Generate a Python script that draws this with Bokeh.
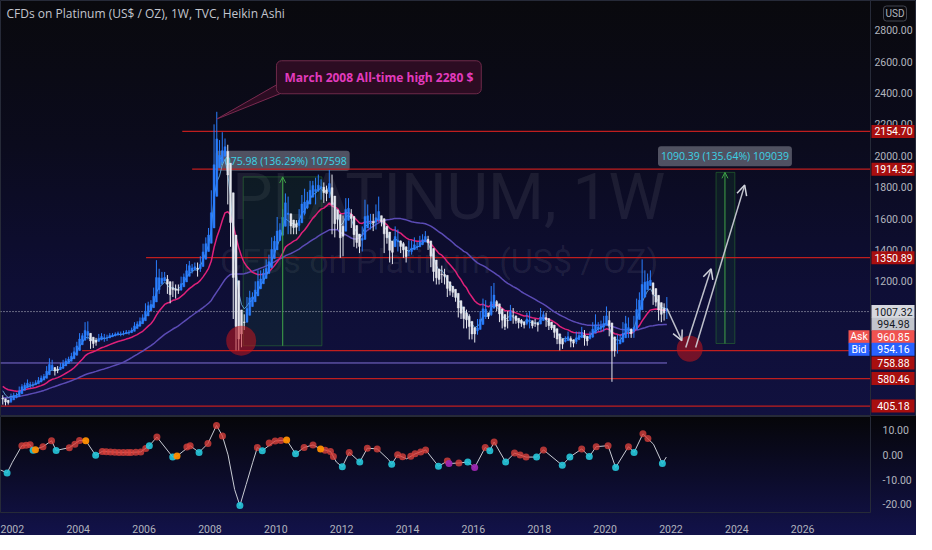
import numpy as np
import pandas as pd
from bokeh.plotting import figure
from bokeh.models import (Range1d, Label, Arrow, OpenHead, FixedTicker, Span,
                          NumeralTickFormatter, CustomJSTickFormatter)
from bokeh.layouts import column
from bokeh.embed import file_html
from bokeh.resources import INLINE
from bokeh.core.properties import value

# ---------------- data (monthly) ----------------
warmup_close = [390, 395, 410, 400, 390, 370, 385, 370, 360, 345, 350, 370,
                360, 365, 370, 375, 355, 360, 350, 365, 420, 430, 440, 445,
                430, 500, 470, 500, 530, 560, 560, 580, 580, 590, 600, 620,
                600, 590, 570, 600, 620, 560, 520, 460]

# Sep 2001 .. Nov 2021
pt_close = [450, 420, 430, 480,
            470, 480, 520, 535, 540, 560, 535, 550, 555, 580, 585, 600,
            650, 680, 650, 620, 640, 660, 690, 700, 710, 730, 770, 810,
            850, 860, 900, 850, 810, 800, 820, 850, 850, 830, 850, 860,
            860, 870, 870, 860, 870, 880, 880, 900, 930, 930, 960, 970,
            1040, 1050, 1060, 1150, 1260, 1230, 1210, 1230, 1140, 1110, 1180, 1120,
            1150, 1220, 1240, 1290, 1300, 1280, 1300, 1260, 1350, 1420, 1470, 1530,
            1720, 2150, 2030, 1950, 2080, 2050, 1700, 1460, 1000, 830, 840, 900,
            970, 1080, 1120, 1100, 1190, 1180, 1260, 1250, 1300, 1340, 1450, 1470,
            1520, 1560, 1650, 1740, 1560, 1540, 1560, 1530, 1650, 1730, 1680, 1750,
            1800, 1820, 1770, 1830, 1810, 1720, 1800, 1850, 1530, 1600, 1600, 1360,
            1610, 1690, 1640, 1560, 1430, 1450, 1410, 1540, 1660, 1570, 1610, 1530,
            1670, 1590, 1570, 1480, 1460, 1340, 1440, 1520, 1410, 1440, 1360, 1360,
            1380, 1440, 1410, 1430, 1450, 1480, 1480, 1420, 1300, 1250, 1210, 1200,
            1280, 1190, 1130, 1140, 1110, 1080, 980, 1010, 910, 990, 840, 890,
            860, 930, 970, 1080, 970, 980, 1150, 1060, 1020, 980, 920, 900,
            990, 1020, 940, 950, 940, 920, 930, 990, 910, 920, 940, 930,
            1000, 990, 930, 900, 900, 850, 830, 780, 820, 830, 850, 795,
            820, 860, 850, 890, 800, 840, 870, 930, 890, 930, 900, 970,
            960, 860, 730, 780, 830, 810, 910, 930, 880, 850, 960, 1070,
            1090, 1200, 1180, 1210, 1180, 1060, 1050, 1010, 960, 1030, 1007]

pt_high = [475, 445, 445, 485,
           490, 490, 530, 545, 555, 575, 560, 560, 570, 590, 600, 610,
           660, 710, 700, 650, 660, 680, 700, 710, 720, 745, 780, 815,
           870, 870, 940, 945, 850, 830, 840, 865, 870, 865, 860, 870,
           870, 875, 880, 880, 885, 890, 890, 905, 940, 945, 970, 990,
           1060, 1070, 1080, 1160, 1335, 1280, 1260, 1260, 1240, 1150, 1200, 1180,
           1180, 1230, 1250, 1310, 1330, 1310, 1320, 1320, 1360, 1440, 1480, 1540,
           1780, 2200, 2280, 2100, 2150, 2110, 2070, 1720, 1480, 1060, 900, 940,
           990, 1100, 1140, 1130, 1200, 1270, 1270, 1280, 1340, 1370, 1480, 1490,
           1610, 1570, 1660, 1760, 1740, 1610, 1570, 1590, 1660, 1750, 1790, 1770,
           1840, 1840, 1860, 1880, 1850, 1830, 1810, 1910, 1880, 1660, 1650, 1600,
           1620, 1730, 1730, 1660, 1580, 1500, 1450, 1550, 1720, 1690, 1630, 1630,
           1690, 1740, 1610, 1580, 1530, 1470, 1450, 1550, 1530, 1460, 1450, 1390,
           1460, 1460, 1480, 1450, 1490, 1500, 1520, 1490, 1430, 1300, 1250, 1260,
           1300, 1280, 1200, 1180, 1170, 1130, 1090, 1040, 1030, 1020, 990, 900,
           900, 960, 1010, 1090, 1080, 1000, 1170, 1190, 1080, 1030, 1010, 940,
           1010, 1050, 1030, 980, 960, 960, 940, 1000, 1010, 940, 960, 940,
           1030, 1010, 1000, 950, 920, 910, 850, 840, 830, 850, 880, 850,
           830, 880, 880, 910, 890, 850, 880, 940, 990, 940, 950, 980,
           1040, 1010, 880, 800, 860, 860, 940, 980, 970, 900, 980, 1090,
           1130, 1340, 1270, 1250, 1270, 1180, 1120, 1060, 1050, 1060, 1100]

pt_low = [415, 410, 415, 425,
          455, 455, 475, 515, 520, 530, 520, 525, 540, 550, 570, 580,
          600, 640, 630, 600, 615, 635, 660, 670, 690, 705, 725, 760,
          800, 835, 850, 830, 770, 775, 790, 815, 825, 815, 820, 840,
          845, 850, 855, 850, 855, 865, 860, 870, 895, 910, 925, 950,
          970, 1020, 1020, 1050, 1150, 1120, 1180, 1200, 1120, 1060, 1100, 1090,
          1120, 1140, 1200, 1230, 1280, 1250, 1270, 1230, 1260, 1340, 1390, 1440,
          1520, 1700, 1970, 1930, 1950, 1990, 1690, 1420, 960, 760, 760, 780,
          890, 960, 1040, 1050, 1090, 1160, 1150, 1220, 1240, 1290, 1340, 1410,
          1480, 1460, 1560, 1650, 1500, 1500, 1500, 1500, 1520, 1640, 1620, 1660,
          1730, 1780, 1690, 1770, 1720, 1700, 1710, 1730, 1500, 1480, 1530, 1350,
          1360, 1600, 1600, 1540, 1420, 1410, 1380, 1390, 1530, 1550, 1530, 1520,
          1530, 1580, 1550, 1380, 1440, 1320, 1310, 1430, 1390, 1380, 1350, 1320,
          1360, 1370, 1400, 1400, 1430, 1430, 1460, 1400, 1290, 1200, 1180, 1180,
          1190, 1180, 1100, 1110, 1100, 1070, 970, 960, 900, 900, 830, 830,
          810, 860, 920, 960, 960, 960, 980, 1050, 1010, 940, 900, 890,
          900, 980, 930, 930, 900, 910, 900, 920, 900, 900, 910, 880,
          930, 950, 910, 890, 890, 840, 800, 760, 770, 810, 830, 780,
          780, 800, 830, 850, 790, 790, 830, 840, 880, 880, 880, 880,
          950, 850, 560, 720, 740, 800, 810, 900, 840, 840, 840, 960,
          1030, 1090, 1130, 1160, 1170, 1050, 1040, 950, 940, 950, 960]

# horizontal levels drawn on the chart
level_price = [2154.70, 1914.52, 1350.89, 758.88, 580.46, 405.18]
level_start = [2007.16, 2007.46, 2006.06, 2004.12, 2003.52, 2001.64]
support_price = 680.0
support_end = 2021.88
last_price = 1007.32

# price tags on the right scale
tag_text = ["2154.70", "1914.52", "1350.89", "1007.32", "994.98", "960.85", "954.16", "758.88", "580.46", "405.18"]
tag_pos = [2154.70, 1914.52, 1350.89, 1007.32, 927.0, 847.0, 767.0, 680.0, 580.46, 405.18]
tag_kind = ["lvl", "lvl", "lvl", "last", "last2", "ask", "bid", "lvl", "lvl", "lvl"]
side_text = ["Ask", "Bid"]
side_pos = [847.0, 767.0]
side_kind = ["ask", "bid"]

# measuring tools
meas_x0 = [2009.01, 2023.37]
meas_x1 = [2011.40, 2023.94]
meas_xc = [2010.21, 2023.64]
meas_base = [789.5, 803.9]
meas_top = [1865.5, 1894.3]
meas_text = ["1075.98 (136.29%) 107598", "1090.39 (135.64%) 109039"]

# highlighted circles
circ_x = [2008.95, 2022.57]
circ_y = [822, 770]

# drawn arrows (x0, y0, x1, y1)
arr_x0 = [2021.88, 2022.45, 2022.75]
arr_y0 = [1027, 779, 779]
arr_x1 = [2022.33, 2023.22, 2024.24]
arr_y1 = [822, 1280, 1813]

# oscillator
osc_t = [2001.64, 2001.84, 2002.0, 2002.29, 2002.54, 2002.63, 2002.93, 2003.19, 2003.33, 2003.73,
         2004.04, 2004.23, 2004.53, 2004.73, 2005.24, 2005.6, 2005.9, 2006.16, 2006.39, 2006.87,
         2007.0, 2007.4, 2007.67, 2007.94, 2008.2, 2008.38, 2008.55, 2008.75, 2008.91, 2009.1,
         2009.3, 2009.44, 2009.59, 2009.98, 2010.33, 2010.6, 2010.86, 2011.13, 2011.36, 2011.66,
         2011.84, 2012.02, 2012.23, 2012.55, 2012.78, 2013.08, 2013.43, 2013.52, 2013.7, 2013.97,
         2014.23, 2014.55, 2014.94, 2015.21, 2015.26, 2015.56, 2015.83, 2016.04, 2016.36, 2016.5,
         2016.63, 2016.98, 2017.25, 2017.6, 2017.92, 2018.13, 2018.7, 2018.93, 2019.29, 2019.52,
         2019.73, 2020.09, 2020.32, 2020.71, 2020.88, 2021.15, 2021.47, 2021.74, 2021.86]
osc_v = [-6.1, -7.3, -3.0, 3.7, 4.1, 1.9, 3.3, 5.7, 1.8, 2.9,
         5.8, 5.7, -0.2, 1.4, 1.0, 1.0, 1.2, 3.7, 7.2, -0.9,
         -0.5, 3.7, 1.0, 4.6, 11.9, 7.6, 0.0, -14.0, -20.5, -12.0,
         -3.0, 3.0, 1.7, 5.6, 6.0, 0.4, 3.0, 4.0, 2.4, 1.4,
         -2.9, -4.8, 1.0, -2.9, 2.7, 2.4, -2.0, -3.8, 0.0, -1.6,
         0.4, 2.0, -4.6, -2.5, -3.5, -3.3, -2.9, -5.1, 3.0, 1.7,
         5.2, -2.9, 0.7, -0.9, -0.9, 2.0, -4.2, -0.9, 2.4, -0.7,
         3.3, 3.7, -5.1, 3.3, 1.0, 8.5, 4.3, -3.5, -0.9]

up_t = [2002.29, 2002.42, 2002.54, 2002.93, 2003.19, 2003.73, 2003.9, 2004.04, 2004.73, 2004.85,
        2004.98, 2005.11, 2005.24, 2005.37, 2005.5, 2005.6, 2005.75, 2005.9, 2006.05, 2006.39,
        2007.3, 2007.4, 2007.94, 2008.2, 2008.38, 2009.44, 2009.8, 2009.98, 2010.15, 2010.86,
        2011.13, 2011.5, 2011.66, 2011.75, 2012.23, 2012.78, 2013.08, 2013.7, 2013.85, 2014.1,
        2014.23, 2014.4, 2014.55, 2015.21, 2015.56, 2016.36, 2016.63, 2017.25, 2017.42, 2017.6,
        2018.13, 2019.29, 2019.73, 2020.09, 2020.71, 2021.15, 2021.3]
up_v = [3.7, 3.9, 4.1, 3.3, 5.7, 2.9, 4.3, 5.8, 1.4, 1.3,
        1.2, 1.1, 1.0, 1.0, 1.0, 1.0, 1.1, 1.2, 2.6, 7.2,
        3.2, 3.7, 4.6, 11.9, 7.6, 3.0, 4.8, 5.6, 5.8, 3.0,
        4.0, 1.9, 1.4, -0.7, 1.0, 2.7, 2.4, 0.0, -0.8, -0.6,
        0.4, 1.2, 2.0, -2.5, -3.3, 3.0, 5.2, 0.7, -0.1, -0.9,
        2.0, 2.4, 3.3, 3.7, 3.3, 8.5, 6.6]
dn_t = [2001.84, 2002.63, 2003.33, 2004.53, 2006.16, 2006.87, 2007.67, 2008.91, 2009.59, 2010.6,
        2012.02, 2012.55, 2013.52, 2014.94, 2015.83, 2016.5, 2016.98, 2017.92, 2018.7, 2018.93,
        2019.52, 2020.32, 2020.88, 2021.74]
dn_v = [-7.3, 1.9, 1.8, -0.2, 3.7, -0.9, 1.0, -20.5, 1.7, 0.4,
        -4.8, -2.9, -3.8, -4.6, -2.9, 1.7, -2.9, -0.9, -4.2, -0.9,
        -0.7, -5.1, 1.0, -3.5]
or_t = [2002.7, 2004.23, 2007.0, 2010.33, 2011.36]
or_v = [2.1, 5.7, -0.5, 6.0, 2.4]
pu_t = [2015.26, 2016.04]
pu_v = [-3.5, -5.1]

year_ticks = [2002, 2004, 2006, 2008, 2010, 2012, 2014, 2016, 2018, 2020, 2022, 2024, 2026]
price_ticks = [400, 600, 800, 1000, 1200, 1400, 1600, 1800, 2000, 2200, 2400, 2600, 2800]
osc_ticks = [-20, -10, 0, 10]

# ---------------- derived series ----------------
n = len(pt_close)
t = 2001 + (8 + np.arange(n) + 0.5) / 12.0
c = np.array(pt_close, float)
h = np.array(pt_high, float)
l = np.array(pt_low, float)
o = np.concatenate([[warmup_close[-1]], c[:-1]])
ha_c = (o + h + l + c) / 4.0
ha_o = np.zeros(n)
ha_o[0] = (o[0] + c[0]) / 2.0
for i in range(1, n):
    ha_o[i] = (ha_o[i - 1] + ha_c[i - 1]) / 2.0
ha_h = np.maximum.reduce([h, ha_o, ha_c])
ha_l = np.minimum.reduce([l, ha_o, ha_c])
up = ha_c >= ha_o

allc = pd.Series(warmup_close + pt_close, dtype=float)
fast = allc.ewm(span=5, adjust=False).mean().values[-n:]
ma50 = allc.ewm(span=18, adjust=False).mean().values[-n:]
ma200 = allc.rolling(46, min_periods=1).mean().values[-n:]

FONT = "Open Sans"
NUMFONT = "Roboto"
AX_COL = "#b2b5be"
X0, XDIV = 2001.64, 2028.06          # visible time window of the chart pane
PX_PER_YEAR = 870 / (XDIV - X0)
XEND = X0 + 916 / PX_PER_YEAR        # main frame also spans the price-scale strip
PX = 1.0 / PX_PER_YEAR               # one pixel, in years
Y0, Y1 = 339, 2989
PX_Y = (Y1 - Y0) / 416.0             # one pixel, in price units

# ---------------- main price panel ----------------
p = figure(frame_width=916, frame_height=416,
           x_range=Range1d(X0, XEND), y_range=Range1d(Y0, Y1),
           x_axis_location=None, y_axis_location=None,
           toolbar_location=None, output_backend="svg", min_border=0)
p.background_fill_alpha = 0
p.border_fill_alpha = 0
p.outline_line_color = "#262a38"
p.grid.visible = False
p.styles = {"background-image": "linear-gradient(to bottom, #09090d 0%, #0b0b1d 35%, #0e0e36 70%, #11113f 100%)"}

# price scale strip (divider + tick labels)
p.add_layout(Span(location=XDIV, dimension="height", line_color="#262a38", line_width=1))
p.text(x=[XDIV] * len(price_ticks), y=price_ticks, text=[f"{v:.2f}" for v in price_ticks],
       x_offset=23, text_font=value(NUMFONT), text_font_size="10.5px", text_color=AX_COL,
       text_align="center", text_baseline="middle")

# watermark
p.text(x=[2015.25], y=[1732], text=["PLATINUM, 1W"], text_font=value("Roboto"),
       text_font_size="64px", text_color="#ffffff", text_alpha=0.07,
       text_align="center", text_baseline="alphabetic")
p.text(x=[2014.96], y=[1330], text=["CFDs on Platinum (US$ / OZ)"], text_font=value("Roboto"),
       text_font_size="34px", text_color="#ffffff", text_alpha=0.07,
       text_align="center", text_baseline="alphabetic")

# measuring boxes
p.quad(left=meas_x0, right=meas_x1, bottom=meas_base, top=meas_top,
       fill_color="#1b6b2a", fill_alpha=0.16, line_color="#2e7d32", line_alpha=0.5, line_width=1)
for xc, b, tp in zip(meas_xc, meas_base, meas_top):
    p.add_layout(Arrow(end=OpenHead(size=6, line_color="#3fa548", line_width=1),
                       x_start=xc, y_start=b, x_end=xc, y_end=tp,
                       line_color="#3fa548", line_width=1))
p.text(x=meas_xc, y=[m + 102 for m in meas_top], text=meas_text,
       text_font=value(FONT), text_font_size="10.5px", text_color="#3cd3e6",
       text_align="center", text_baseline="middle",
       background_fill_color="#8a8d99", background_fill_alpha=0.55,
       padding=3, border_radius=3)

# horizontal level lines
p.segment(x0=level_start, y0=level_price, x1=[XDIV] * len(level_price), y1=level_price,
          line_color="#c01e1e", line_width=1.3, line_alpha=1.0)
p.segment(x0=[X0], y0=[support_price], x1=[support_end], y1=[support_price],
          line_color="#8c7ae6", line_width=1, line_alpha=0.9)
p.segment(x0=[X0], y0=[last_price], x1=[XDIV], y1=[last_price],
          line_color="#d1d4dc", line_width=1, line_dash="1 2", line_alpha=0.9)

# moving averages
p.line(t, ma200, line_color="#5b4bb5", line_width=1.5)
p.line(t, ma50, line_color="#e0217a", line_width=1.5)
p.line(t, fast, line_color="#6ab4e0", line_width=1, line_alpha=0.85)

# heikin ashi candles
cols = np.where(up, "#2a7fff", "#e6e8ef")
p.segment(x0=t, y0=ha_l, x1=t, y1=ha_h, line_color=list(cols), line_width=1)
p.vbar(x=t, width=0.055, bottom=np.minimum(ha_o, ha_c), top=np.maximum(ha_o, ha_c),
       fill_color=list(cols), line_color=list(cols), line_width=0.5)

# circles
p.scatter(x=circ_x, y=circ_y, size=[30, 26], fill_color="#c4161c", fill_alpha=0.55, line_alpha=0)

# arrows
for x0, y0, x1, y1 in zip(arr_x0, arr_y0, arr_x1, arr_y1):
    p.add_layout(Arrow(end=OpenHead(size=10, line_color="#d1d4dc", line_width=1.5),
                       x_start=x0, y_start=y0, x_end=x1, y_end=y1,
                       line_color="#d1d4dc", line_width=1.5, line_alpha=0.9))

# callout
p.patch(x=[2010.05, 2010.40, 2008.21], y=[2455, 2418, 2234],
        fill_color="#2c0c22", line_color="#7a2a50", line_width=1)
p.add_layout(Label(x=2013.13, y=2500, text="March 2008 All-time high 2280 $",
                   text_font=FONT, text_font_size="12px", text_font_style="bold",
                   text_color="#e23bbd", text_align="center", text_baseline="middle",
                   background_fill_color="#2c0c22", border_line_color="#6e2a4a",
                   padding=8, border_radius=5))

# title
p.add_layout(Label(x=6, y=403, x_units="screen", y_units="screen",
                   text="CFDs on Platinum (US$ / OZ), 1W, TVC, Heikin Ashi",
                   text_font=FONT, text_font_size="12px", text_color="#c3c6ce",
                   text_baseline="middle"))
# USD badge
p.add_layout(Label(x=XDIV, x_offset=13, y=403, y_units="screen", text="USD",
                   text_font=NUMFONT, text_font_size="10px", text_color=AX_COL,
                   text_baseline="middle", border_line_color="#434651",
                   padding=2, border_radius=3))

# price tags on the scale (boxes + centred text)
tag_style = {"lvl": ("#a80f0f", "#ffffff"), "last": ("#d6d8de", "#131722"),
             "last2": ("#c2c5cc", "#131722"),
             "ask": ("#f0524f", "#ffffff"), "bid": ("#2962ff", "#ffffff")}
half = 6.5 * PX_Y
p.quad(left=[XDIV + PX] * len(tag_pos), right=[XEND - 2 * PX] * len(tag_pos),
       bottom=[v - half for v in tag_pos], top=[v + half for v in tag_pos],
       fill_color=[tag_style[k][0] for k in tag_kind], line_alpha=0)
p.text(x=[XDIV] * len(tag_pos), y=tag_pos, text=tag_text, x_offset=23,
       text_font=value(NUMFONT), text_font_size="10.5px",
       text_color=[tag_style[k][1] for k in tag_kind],
       text_align="center", text_baseline="middle")
p.quad(left=[XDIV - 22 * PX] * 2, right=[XDIV - PX] * 2,
       bottom=[v - half for v in side_pos], top=[v + half for v in side_pos],
       fill_color=[tag_style[k][0] for k in side_kind], line_alpha=0)
p.text(x=[XDIV] * 2, y=side_pos, text=side_text, x_offset=-11.5,
       text_font=value(NUMFONT), text_font_size="10.5px", text_color="#ffffff",
       text_align="center", text_baseline="middle")

# ---------------- oscillator panel ----------------
q = figure(frame_width=870, frame_height=96, x_range=Range1d(X0, XDIV),
           y_range=Range1d(-23.3, 15.5), y_axis_location="right",
           toolbar_location=None, output_backend="svg",
           min_border_left=0, min_border_top=0, min_border_right=46, min_border_bottom=0)
q.background_fill_alpha = 0
q.border_fill_alpha = 0
q.outline_line_color = "#262a38"
q.grid.visible = False
q.styles = {"background-image": "linear-gradient(to bottom, #060609 0%, #0b0b26 45%, #12124a 100%)"}

qy = q.yaxis[0]
qy.ticker = FixedTicker(ticks=osc_ticks)
qy.formatter = NumeralTickFormatter(format="0.00")
qx = q.xaxis[0]
qx.ticker = FixedTicker(ticks=year_ticks)
qx.formatter = CustomJSTickFormatter(code="return tick.toFixed(0);")
for a in (qy, qx):
    a.axis_line_color = None
    a.major_tick_line_color = None
    a.minor_tick_line_color = None
    a.major_label_text_color = AX_COL
    a.major_label_text_font = NUMFONT
    a.major_label_text_font_size = "10.5px"
    a.major_label_standoff = 6

q.line(osc_t, osc_v, line_color="#c9ccd4", line_width=1)
q.scatter(up_t, up_v, size=7, fill_color="#d8413c", fill_alpha=0.8, line_alpha=0)
q.scatter(dn_t, dn_v, size=7, fill_color="#26c6da", fill_alpha=0.9, line_alpha=0)
q.scatter(or_t, or_v, size=7, fill_color="#ff8f00", fill_alpha=0.95, line_alpha=0)
q.scatter(pu_t, pu_v, size=7, fill_color="#9c27b0", fill_alpha=0.95, line_alpha=0)

layout = column(p, q, spacing=0)
open("out.html", "w").write(file_html(layout, INLINE))
